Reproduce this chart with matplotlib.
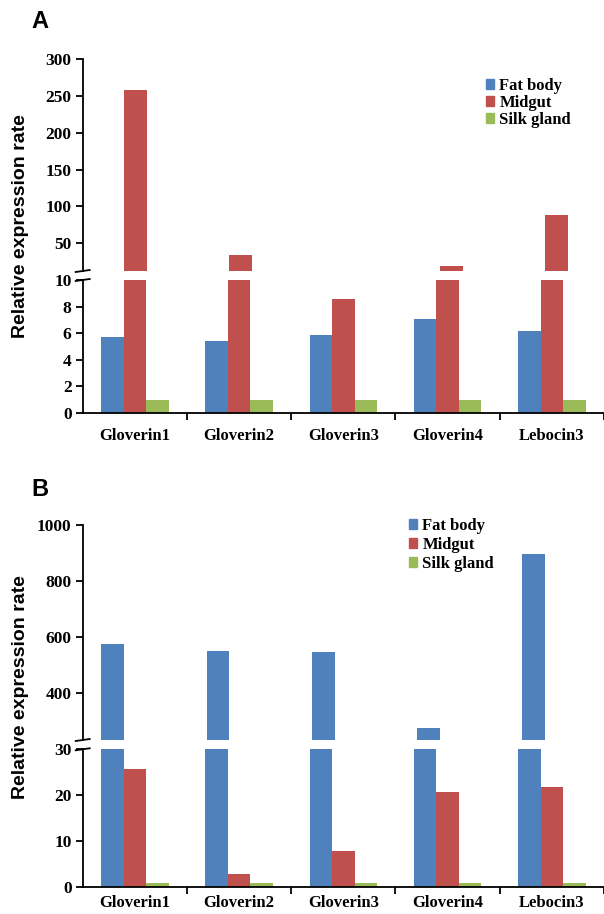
import matplotlib
matplotlib.use("Agg")
import matplotlib.pyplot as plt
import matplotlib.patches as mpatches
import numpy as np

genes = ["Gloverin1", "Gloverin2", "Gloverin3", "Gloverin4", "Lebocin3"]
tissues = ["Fat body", "Midgut", "Silk gland"]
colors = ["#4F81BD", "#C0504D", "#9BBB59"]

# Panel A values
a_fat = [5.7, 5.4, 5.9, 7.1, 6.2]
a_mid = [258.5, 33.5, 8.6, 19.5, 87.8]
a_silk = [1.0, 1.0, 1.0, 1.0, 1.0]

# Panel B values
b_fat = [575, 551, 546, 275, 897]
b_mid = [25.6, 2.8, 7.8, 20.6, 21.8]
b_silk = [0.8, 0.8, 0.8, 0.8, 0.8]

a_upper_ticks = [50, 100, 150, 200, 250, 300]
a_lower_ticks = [0, 2, 4, 6, 8, 10]
b_upper_ticks = [400, 600, 800, 1000]
b_lower_ticks = [0, 10, 20, 30]

W, H = 604, 914
fig = plt.figure(figsize=(W / 100, H / 100), dpi=100)

serif_bold = dict(family="Liberation Serif", weight="bold")

def px_axes(left, top, right, bottom):
    return fig.add_axes([left / W, 1 - bottom / H, (right - left) / W, (bottom - top) / H])

x = np.arange(len(genes))
bw = 0.216

def draw_bars(ax, series):
    for i, vals in enumerate(series):
        ax.bar(x + (i - 1) * bw, vals, width=bw, color=colors[i], label=tissues[i], zorder=2)

def style_common(ax, ticks, ylim):
    ax.set_xlim(-0.5, 4.45)
    ax.set_ylim(*ylim)
    ax.set_yticks(ticks)
    ax.set_yticklabels([str(t) for t in ticks], fontsize=12.5, **serif_bold)
    for s in ["top", "right"]:
        ax.spines[s].set_visible(False)
    ax.spines["left"].set_linewidth(1.3)
    ax.spines["bottom"].set_linewidth(1.3)
    ax.tick_params(axis="y", direction="out", length=5, width=1.3, pad=3)

def style_upper(ax, ticks, ylim):
    style_common(ax, ticks, ylim)
    ax.spines["bottom"].set_visible(False)
    ax.set_xticks([])

def style_lower(ax, ticks, ylim, pad):
    style_common(ax, ticks, ylim)
    ax.set_xticks([0.5, 1.5, 2.5, 3.5, 4.5])
    ax.set_xticklabels([])
    ax.tick_params(axis="x", which="major", direction="out", length=5, width=1.3)
    ax.set_xticks(x, minor=True)
    ax.set_xticklabels(genes, minor=True, fontsize=12, **serif_bold)
    ax.tick_params(axis="x", which="minor", length=0, pad=pad)

def break_marks(ypx_list, xpx):
    for yp in ypx_list:
        fig.add_artist(plt.Line2D([(xpx - 7) / W, (xpx + 7) / W],
                                  [1 - (yp + 1) / H, 1 - (yp - 1) / H],
                                  color="black", lw=1.3))

sans_bold = dict(family="Liberation Sans", weight="bold")

# ---------- Panel A ----------
axA_up = px_axes(82.7, 59, 604, 271)
axA_lo = px_axes(82.7, 280, 604, 413)
for ax in (axA_up, axA_lo):
    draw_bars(ax, [a_fat, a_mid, a_silk])
style_upper(axA_up, a_upper_ticks, (12.4, 300))
style_lower(axA_lo, a_lower_ticks, (0, 10), pad=11)
break_marks([271, 280], 82.7)

handles = [mpatches.Patch(color=c, label=t) for c, t in zip(colors, tissues)]
fig.legend(handles=handles, loc="upper left", bbox_to_anchor=(486 / W, 1 - 78 / H),
           frameon=False, prop=dict(family="Liberation Serif", weight="bold", size=12),
           handlelength=0.5, handleheight=0.5, handletextpad=0.3, labelspacing=0.05,
           borderpad=0, borderaxespad=0)

fig.text(21 / W, 1 - 226 / H, "Relative expression rate", rotation=90, ha="center", va="center",
         fontsize=14, **sans_bold)
fig.text(40 / W, 1 - 22 / H, "A", ha="center", va="center", fontsize=17, **sans_bold)

# ---------- Panel B ----------
axB_up = px_axes(82.7, 525, 604, 740)
axB_lo = px_axes(82.7, 749.3, 604, 886.7)
for ax in (axB_up, axB_lo):
    draw_bars(ax, [b_fat, b_mid, b_silk])
style_upper(axB_up, b_upper_ticks, (233.5, 1000))
style_lower(axB_lo, b_lower_ticks, (0, 30), pad=6)
break_marks([740, 749.3], 82.7)

fig.legend(handles=handles, loc="upper left", bbox_to_anchor=(409 / W, 1 - 518 / H),
           frameon=False, prop=dict(family="Liberation Serif", weight="bold", size=12),
           handlelength=0.5, handleheight=0.5, handletextpad=0.3, labelspacing=0.18,
           borderpad=0, borderaxespad=0)

fig.text(21 / W, 1 - 687 / H, "Relative expression rate", rotation=90, ha="center", va="center",
         fontsize=14, **sans_bold)
fig.text(40 / W, 1 - 490 / H, "B", ha="center", va="center", fontsize=17, **sans_bold)

fig.savefig("out.png", dpi=100)
